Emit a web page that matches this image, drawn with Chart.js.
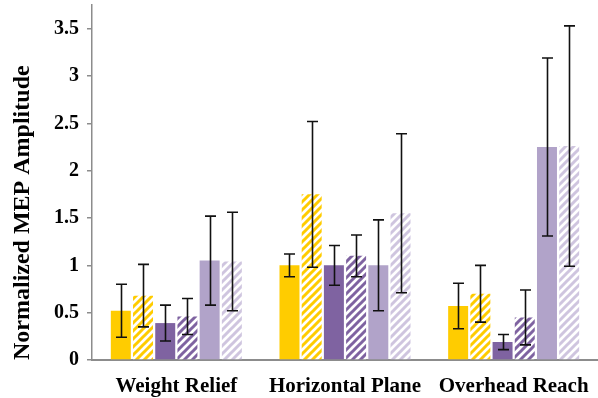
<!DOCTYPE html>
<html>
<head>
<meta charset="utf-8">
<script src="https://cdn.jsdelivr.net/npm/chart.js@4/dist/chart.umd.min.js"></script>
<style>
  html, body { margin: 0; padding: 0; background: #ffffff; }
  #wrap { width: 598px; height: 398px; }
</style>
</head>
<body>
<div id="wrap"><canvas id="chart" width="598" height="398"></canvas></div>
<script>
// Task categories on the x axis
const categories = ['Weight Relief', 'Horizontal Plane', 'Overhead Reach'];

// Mean normalized MEP amplitude per condition
const yellowSolid   = [0.52, 1.00, 0.57];
const yellowHatched = [0.68, 1.75, 0.70];
const darkSolid     = [0.39, 1.00, 0.19];
const darkHatched   = [0.46, 1.10, 0.45];
const lightSolid    = [1.05, 1.00, 2.25];
const lightHatched  = [1.04, 1.55, 2.26];

// Error bar half-lengths (same order)
const yellowSolidErr   = [0.28, 0.12, 0.24];
const yellowHatchedErr = [0.33, 0.77, 0.30];
const darkSolidErr     = [0.19, 0.21, 0.08];
const darkHatchedErr   = [0.19, 0.22, 0.29];
const lightSolidErr    = [0.47, 0.48, 0.94];
const lightHatchedErr  = [0.52, 0.84, 1.27];

// Y axis tick values
const yTicks = [0, 0.5, 1, 1.5, 2, 2.5, 3, 3.5];

const YELLOW = '#FFCC00';
const DARK = '#7F63A1';
const LIGHT = '#B1A3C9';
const LIGHT_STRIPE = '#CFC5DF';

// Diagonal stripe fill for the hatched bars
function stripes(color) {
  const size = 8;
  const c = document.createElement('canvas');
  c.width = size; c.height = size;
  const g = c.getContext('2d');
  g.fillStyle = '#ffffff';
  g.fillRect(0, 0, size, size);
  g.strokeStyle = color;
  g.lineWidth = 3;
  g.beginPath();
  g.moveTo(-1, size + 1); g.lineTo(size + 1, -1);
  g.moveTo(-3, 3); g.lineTo(3, -3);
  g.moveTo(size - 3, size + 3); g.lineTo(size + 3, size - 3);
  g.stroke();
  return g.createPattern(c, 'repeat');
}

const ctx = document.getElementById('chart').getContext('2d');

const series = [
  { label: 'Series 1', data: yellowSolid,   err: yellowSolidErr,   bg: YELLOW },
  { label: 'Series 2', data: yellowHatched, err: yellowHatchedErr, bg: stripes(YELLOW) },
  { label: 'Series 3', data: darkSolid,     err: darkSolidErr,     bg: DARK },
  { label: 'Series 4', data: darkHatched,   err: darkHatchedErr,   bg: stripes(DARK) },
  { label: 'Series 5', data: lightSolid,    err: lightSolidErr,    bg: LIGHT },
  { label: 'Series 6', data: lightHatched,  err: lightHatchedErr,  bg: stripes(LIGHT_STRIPE) }
];

// Draws symmetric error bars with caps over each bar
const errorBars = {
  id: 'errorBars',
  afterDatasetsDraw(chart) {
    const g = chart.ctx;
    const yScale = chart.scales.y;
    g.save();
    g.strokeStyle = '#111111';
    g.lineWidth = 1.6;
    chart.data.datasets.forEach((ds, di) => {
      const meta = chart.getDatasetMeta(di);
      meta.data.forEach((bar, i) => {
        const v = ds.data[i];
        const e = ds.errors[i];
        const x = Math.round(bar.x) + 0.5;
        const yTop = yScale.getPixelForValue(v + e);
        const yBot = yScale.getPixelForValue(v - e);
        const half = 5.5;
        g.beginPath();
        g.moveTo(x, yTop); g.lineTo(x, yBot);
        g.moveTo(x - half, yTop); g.lineTo(x + half, yTop);
        g.moveTo(x - half, yBot); g.lineTo(x + half, yBot);
        g.stroke();
      });
    });
    g.restore();
  }
};

new Chart(ctx, {
  type: 'bar',
  data: {
    labels: categories,
    datasets: series.map(s => ({
      label: s.label,
      data: s.data,
      errors: s.err,
      backgroundColor: s.bg,
      borderWidth: 0,
      categoryPercentage: 0.79,
      barPercentage: 0.9
    }))
  },
  options: {
    responsive: false,
    animation: false,
    layout: { padding: { top: 5, right: 0, bottom: 0, left: 0 } },
    plugins: {
      legend: { display: false },
      tooltip: { enabled: false }
    },
    scales: {
      x: {
        grid: { display: false },
        border: { display: true, color: '#8C8C8C', width: 2 },
        ticks: {
          color: '#000000',
          padding: 6,
          font: { family: 'Liberation Serif', size: 21, weight: 'bold' }
        },
        afterFit(scale) {
          scale.height = 38;
          scale.paddingLeft = 0;
          scale.paddingRight = 0;
        }
      },
      y: {
        min: 0,
        max: 3.75,
        afterBuildTicks(scale) { scale.ticks = yTicks.map(v => ({ value: v })); },
        grid: {
          display: true,
          drawOnChartArea: false,
          drawTicks: true,
          tickLength: 5,
          color: '#8C8C8C',
          lineWidth: 1.5
        },
        border: { display: true, color: '#8C8C8C', width: 1.5 },
        ticks: {
          color: '#000000',
          padding: 8,
          font: { family: 'Liberation Serif', size: 20, weight: 'bold' },
          callback: v => String(v)
        },
        title: {
          display: true,
          text: 'Normalized MEP Amplitude',
          color: '#000000',
          align: 'start',
          padding: { top: 8, bottom: 0 },
          font: { family: 'Liberation Serif', size: 24, weight: 'bold' }
        },
        afterFit(scale) {
          scale.width = 92;
          scale.paddingTop = 0;
          scale.paddingBottom = 0;
        }
      }
    }
  },
  plugins: [errorBars]
});
</script>
</body>
</html>
